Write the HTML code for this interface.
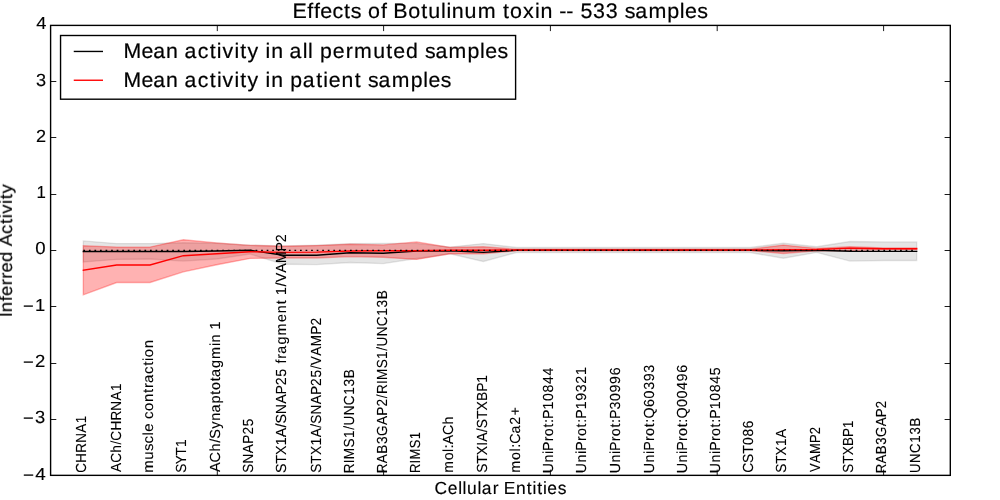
<!DOCTYPE html>
<html lang="en">
<head>
<meta charset="utf-8">
<title>Effects of Botulinum toxin -- 533 samples</title>
<style>
html,body{margin:0;padding:0;background:#fff;}
body{width:1000px;height:500px;overflow:hidden;}
svg{display:block;}
g.lab,g.tk,g.big{will-change:transform;}
text{font-family:"Liberation Sans",sans-serif;fill:#000;stroke:#000;stroke-width:0.2px;font-kerning:none;font-variant-ligatures:none;text-rendering:geometricPrecision;}
g.lab text{stroke-width:0.1px;}
g.tk text{stroke-width:0.15px;}
</style>
</head>
<body>
<svg width="1000" height="500" viewBox="0 0 1000 500">
<rect width="1000" height="500" fill="#fff"/>
<polygon points="83.33,240.90 116.67,243.60 150.00,243.60 183.33,242.80 216.67,243.30 250.00,245.20 283.33,245.90 316.67,245.20 350.00,243.80 383.33,243.40 416.67,243.40 450.00,247.10 483.33,243.60 516.67,247.50 550.00,247.50 583.33,247.50 616.67,247.50 650.00,247.50 683.33,247.50 716.67,247.50 750.00,247.50 783.33,243.30 816.67,246.80 850.00,241.50 883.33,241.90 916.67,241.90 916.67,260.50 883.33,260.50 850.00,261.10 816.67,252.40 783.33,258.30 750.00,252.50 716.67,252.50 683.33,252.50 650.00,252.50 616.67,252.50 583.33,252.50 550.00,252.50 516.67,252.50 483.33,261.50 450.00,253.80 416.67,258.50 383.33,263.60 350.00,262.50 316.67,264.60 283.33,264.30 250.00,254.00 216.67,259.00 183.33,261.10 150.00,259.00 116.67,259.40 83.33,261.90" fill="#000" fill-opacity="0.1" stroke="#000" stroke-opacity="0.1" stroke-width="1.389" stroke-linejoin="miter"/>
<polygon points="83.33,245.80 116.67,247.10 150.00,247.10 183.33,239.80 216.67,242.90 250.00,245.40 283.33,246.30 316.67,245.60 350.00,244.20 383.33,244.90 416.67,241.90 450.00,247.50 483.33,246.80 516.67,249.30 550.00,249.30 583.33,249.30 616.67,249.30 650.00,249.30 683.33,249.30 716.67,249.30 750.00,249.30 783.33,245.10 816.67,248.50 850.00,246.80 883.33,247.90 916.67,247.90 916.67,249.60 883.33,249.60 850.00,250.60 816.67,250.70 783.33,253.50 750.00,250.60 716.67,250.60 683.33,250.60 650.00,250.60 616.67,250.60 583.33,250.60 550.00,250.60 516.67,250.60 483.33,253.80 450.00,253.80 416.67,259.40 383.33,257.30 350.00,256.60 316.67,258.00 283.33,258.00 250.00,258.40 216.67,264.70 183.33,271.80 150.00,282.50 116.67,282.50 83.33,294.80" fill="#f00" fill-opacity="0.3" stroke="#f00" stroke-opacity="0.3" stroke-width="1.389" stroke-linejoin="miter"/>
<polyline points="83.33,251.55 116.67,251.55 150.00,251.55 183.33,251.50 216.67,251.05 250.00,250.30 283.33,255.20 316.67,255.20 350.00,252.70 383.33,253.30 416.67,251.00 450.00,250.70 483.33,252.40 516.67,250.30 550.00,250.30 583.33,250.30 616.67,250.30 650.00,250.30 683.33,250.30 716.67,250.30 750.00,250.30 783.33,250.70 816.67,250.30 850.00,251.30 883.33,251.40 916.67,251.40" fill="none" stroke="#000" stroke-width="1.389" stroke-linecap="square"/>
<polyline points="83.33,270.30 116.67,265.00 150.00,265.00 183.33,255.70 216.67,253.80 250.00,251.70 283.33,252.40 316.67,252.10 350.00,251.00 383.33,250.70 416.67,250.70 450.00,250.30 483.33,250.30 516.67,250.00 550.00,250.00 583.33,250.00 616.67,250.00 650.00,250.00 683.33,250.00 716.67,250.00 750.00,250.00 783.33,249.60 816.67,249.50 850.00,248.10 883.33,248.75 916.67,248.75" fill="none" stroke="#f00" stroke-width="1.389" stroke-linecap="square"/>
<line x1="83.33" y1="250.4" x2="916.67" y2="250.4" stroke="#000" stroke-width="1.3" stroke-dasharray="1.7 3.856"/>
<g class="lab">
<text transform="translate(86.10,472.00) rotate(-90) scale(0.9196,1)" font-size="14.58" x="-0.86 10.06 21.05 31.77 42.78 53.13">CHRNA1</text>
<text transform="translate(121.10,472.00) rotate(-90) scale(0.9279,1)" font-size="14.58" x="-0.00 9.85 20.83 29.59 33.81 44.61 55.48 66.08 76.97 87.21">ACh/CHRNA1</text>
<text transform="translate(153.30,472.00) rotate(-90) scale(1.0258,1)" font-size="14.58" x="-0.81 12.03 20.50 27.85 35.60 39.14 47.34 51.69 59.49 68.14 77.02 81.90 86.82 95.57 103.61 108.31 111.88 120.54">muscle contraction</text>
<text transform="translate(186.20,472.00) rotate(-90) scale(0.9328,1)" font-size="14.58" x="-0.88 8.39 17.81 26.88">SYT1</text>
<text transform="translate(220.30,472.00) rotate(-90) scale(0.9913,1)" font-size="14.58" x="-0.12 9.69 20.64 29.40 33.58 43.65 51.66 60.08 69.10 77.99 82.67 91.52 95.94 104.87 113.89 127.00 130.71 139.10 143.83">ACh/Synaptotagmin 1</text>
<text transform="translate(253.20,472.00) rotate(-90) scale(0.9200,1)" font-size="14.58" x="-0.82 9.32 20.51 30.66 40.66 49.83">SNAP25</text>
<text transform="translate(286.10,472.00) rotate(-90) scale(0.9770,1)" font-size="14.58" x="-0.94 8.52 17.35 27.29 35.66 45.57 49.67 59.20 69.75 79.30 88.76 97.40 106.08 110.99 115.87 121.08 130.38 139.80 153.41 162.50 171.78 176.34 181.28 189.88 194.13 203.89 213.68 225.74 235.23">STX1A/SNAP25 fragment 1/VAMP2</text>
<text transform="translate(321.10,472.00) rotate(-90) scale(0.9370,1)" font-size="14.58" x="-0.88 8.89 18.03 28.29 36.96 47.16 51.44 61.30 72.20 82.09 91.84 100.77 109.58 114.00 124.05 134.16 146.55 156.31">STX1A/SNAP25/VAMP2</text>
<text transform="translate(354.10,472.00) rotate(-90) scale(0.9268,1)" font-size="14.58" x="-1.26 9.49 13.90 26.53 36.73 45.68 50.17 61.24 72.14 83.28 92.34 101.12">RIMS1/UNC13B</text>
<text transform="translate(387.10,472.00) rotate(-90) scale(0.9315,1)" font-size="14.58" x="-1.27 9.43 19.59 30.00 38.65 50.40 60.40 70.26 79.22 83.67 94.35 98.72 111.28 121.41 130.31 134.77 145.76 156.59 167.66 176.66 185.39">RAB3GAP2/RIMS1/UNC13B</text>
<text transform="translate(420.30,472.00) rotate(-90) scale(0.8891,1)" font-size="14.58" x="-1.22 9.51 13.98 26.63 36.85">RIMS1</text>
<text transform="translate(453.20,472.00) rotate(-90) scale(0.9665,1)" font-size="14.58" x="-0.73 12.19 20.78 24.44 28.71 38.42 49.27">mol:ACh</text>
<text transform="translate(487.30,472.00) rotate(-90) scale(0.9478,1)" font-size="14.58" x="-0.88 8.76 17.79 27.72 31.93 42.00 46.23 55.87 64.89 74.83 84.60 94.29">STXIA/STXBP1</text>
<text transform="translate(520.20,472.00) rotate(-90) scale(0.9753,1)" font-size="14.58" x="-0.76 12.36 21.09 24.78 28.92 39.59 48.52 58.04">mol:Ca2+</text>
<text transform="translate(553.10,472.00) rotate(-90) scale(0.9685,1)" font-size="14.58" x="-1.23 9.78 18.50 21.81 31.78 37.01 45.84 50.58 54.73 64.50 73.32 82.10 90.89 99.67">UniProt:P10844</text>
<text transform="translate(586.40,472.00) rotate(-90) scale(0.9647,1)" font-size="14.58" x="-1.22 9.88 18.66 22.01 32.05 37.32 46.22 50.99 55.19 65.04 73.90 82.78 91.53 100.44">UniProt:P19321</text>
<text transform="translate(620.10,472.00) rotate(-90) scale(0.9767,1)" font-size="14.58" x="-1.25 9.69 18.36 21.63 31.54 36.73 45.50 50.21 54.32 64.07 72.78 81.48 90.20 98.94">UniProt:P30996</text>
<text transform="translate(654.40,472.00) rotate(-90) scale(0.9815,1)" font-size="14.58" x="-1.25 9.70 18.38 21.66 31.58 36.77 45.56 50.26 54.50 66.27 75.00 83.74 92.44 101.20">UniProt:Q60393</text>
<text transform="translate(687.30,472.00) rotate(-90) scale(0.9858,1)" font-size="14.58" x="-1.27 9.63 18.27 21.52 31.39 36.55 45.29 49.97 54.17 65.88 74.56 83.24 91.90 100.60">UniProt:Q00496</text>
<text transform="translate(720.20,472.00) rotate(-90) scale(0.9677,1)" font-size="14.58" x="-1.22 9.83 18.58 21.91 31.91 37.16 46.03 50.78 54.96 64.76 73.62 82.43 91.25 100.04">UniProt:P10845</text>
<text transform="translate(753.20,472.00) rotate(-90) scale(0.9491,1)" font-size="14.58" x="-0.93 9.60 19.28 28.58 37.36 46.14">CST086</text>
<text transform="translate(786.10,472.00) rotate(-90) scale(0.9272,1)" font-size="14.58" x="-0.89 8.80 17.88 28.06 36.66">STX1A</text>
<text transform="translate(820.10,472.00) rotate(-90) scale(0.8909,1)" font-size="14.58" x="0.01 10.06 20.16 32.55 42.30">VAMP2</text>
<text transform="translate(853.30,472.00) rotate(-90) scale(0.9194,1)" font-size="14.58" x="-0.84 8.93 18.10 28.18 38.09 47.91">STXBP1</text>
<text transform="translate(886.40,472.00) rotate(-90) scale(0.9100,1)" font-size="14.58" x="-1.25 9.41 19.54 29.91 38.54 50.25 60.21 70.03">RAB3GAP2</text>
<text transform="translate(920.00,472.00) rotate(-90) scale(0.9056,1)" font-size="14.58" x="-1.12 10.06 21.08 32.33 41.48 50.35">UNC13B</text>
</g>
<rect x="50.6" y="25.4" width="899.70" height="449.95" fill="none" stroke="#000" stroke-width="1.389"/>
<path d="M50.6,81.5h5.7M950.3,81.5h-5.7M50.6,137.5h5.7M950.3,137.5h-5.7M50.6,194.5h5.7M950.3,194.5h-5.7M50.6,250.5h5.7M950.3,250.5h-5.7M50.6,306.5h5.7M950.3,306.5h-5.7M50.6,363.5h5.7M950.3,363.5h-5.7M50.6,419.5h5.7M950.3,419.5h-5.7M217.3,475.35v-5.7M217.3,25.4v5.7M383.6,475.35v-5.7M383.6,25.4v5.7M550.4,475.35v-5.7M550.4,25.4v5.7M717.2,475.35v-5.7M717.2,25.4v5.7M883.6,475.35v-5.7M883.6,25.4v5.7" stroke="#000" stroke-width="0.9" fill="none"/>
<g class="tk">
<text transform="translate(36.70,28.90) scale(1.0433,1)" font-size="17.50" x="-0.40">4</text>
<text transform="translate(36.70,85.90) scale(1.0365,1)" font-size="17.50" x="-0.67">3</text>
<text transform="translate(36.90,142.00) scale(1.0348,1)" font-size="17.50" x="-0.88">2</text>
<text transform="translate(37.75,198.00) scale(0.9609,1)" font-size="17.50" x="-1.33">1</text>
<text transform="translate(36.00,253.80) scale(1.0639,1)" font-size="17.50" x="-0.68">0</text>
<text transform="translate(23.75,311.00) scale(1.0484,1)" font-size="17.50" x="-0.62 10.68" y="0.94 0">−1</text>
<text transform="translate(23.75,366.90) scale(1.0554,1)" font-size="17.50" x="-0.62 10.58" y="0.94 0">−2</text>
<text transform="translate(23.75,422.90) scale(1.0477,1)" font-size="17.50" x="-0.61 10.85" y="0.94 0">−3</text>
<text transform="translate(23.75,479.90) scale(1.0770,1)" font-size="17.50" x="-0.65 10.63" y="0.94 0">−4</text>
</g>
<g class="big"><text transform="translate(294.90,17.90) scale(1.0219,1)" font-size="21.00" x="-2.26 12.08 18.58 24.80 36.77 48.13 54.59 65.05 71.47 84.38 90.19 96.37 110.95 123.65 130.40 142.99 148.26 153.52 166.04 178.87 196.88 203.66 210.45 223.24 234.93 240.30 252.30 258.57 265.67 272.70 279.43 291.83 304.18 316.37 322.85 333.13 345.92 364.39 376.63 381.70 393.69">Effects of Botulinum toxin -- 533 samples</text></g>
<g class="tk"><text transform="translate(435.70,493.70) scale(0.9959,1)" font-size="17.50" x="-1.19 12.03 22.54 27.00 31.48 42.10 46.19 57.27 63.06 68.23 80.53 91.41 97.18 101.88 107.66 112.11 122.56">Cellular Entities</text><text transform="translate(11.90,315.60) rotate(-90) scale(1.0591,1)" font-size="17.50" x="-1.64 3.31 13.50 18.50 28.65 34.88 40.81 50.68 60.66 65.44 77.12 86.51 91.99 96.24 105.52 109.94 115.43">Inferred Activity</text></g>
<rect x="60.55" y="35.5" width="455.05" height="63.70" fill="#fff" stroke="#000" stroke-width="1.389"/>
<line x1="73.75" y1="51.45" x2="103" y2="51.45" stroke="#000" stroke-width="1.389"/>
<line x1="73.75" y1="80.25" x2="103" y2="80.25" stroke="#f00" stroke-width="1.389"/>
<g class="big"><text transform="translate(125.40,57.80) scale(1.0133,1)" font-size="21.00" x="-1.93 15.82 27.49 40.04 52.08 58.28 71.31 83.28 90.28 95.81 107.62 113.30 120.39 131.48 138.23 143.82 155.86 162.05 174.94 180.23 185.33 192.15 204.73 217.59 225.52 244.53 257.50 264.29 276.83 289.02 295.60 306.00 318.96 337.63 349.99 355.14 367.26">Mean activity in all permuted samples</text><text transform="translate(125.40,87.00) scale(1.0084,1)" font-size="21.00" x="-1.91 15.93 27.67 40.30 52.36 58.61 71.71 83.74 90.78 96.35 108.22 113.94 121.07 132.18 138.97 144.63 156.69 163.56 175.90 189.29 196.23 201.56 214.36 227.45 233.97 240.59 251.06 264.10 282.86 295.28 300.47 312.66">Mean activity in patient samples</text></g>
</svg>
</body>
</html>
